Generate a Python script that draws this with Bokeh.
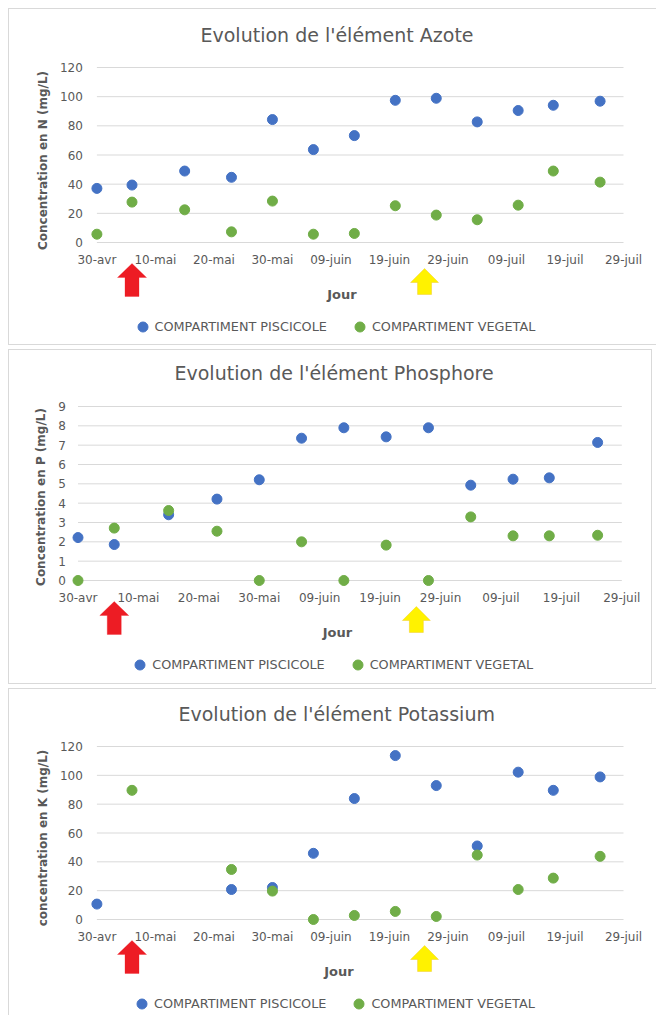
import pandas as pd
from bokeh.plotting import figure
from bokeh.layouts import column
from bokeh.models import FixedTicker, Legend, LegendItem, PolyAnnotation, Range1d
from bokeh.embed import file_html
from bokeh.resources import INLINE

NAN = float("nan")

# ---------------- data ----------------
dates = ["2021-04-30", "2021-05-06", "2021-05-15", "2021-05-23", "2021-05-30",
         "2021-06-06", "2021-06-13", "2021-06-20", "2021-06-27", "2021-07-04",
         "2021-07-11", "2021-07-17", "2021-07-25"]

x_tick_dates = ["2021-04-30", "2021-05-10", "2021-05-20", "2021-05-30", "2021-06-09",
                "2021-06-19", "2021-06-29", "2021-07-09", "2021-07-19", "2021-07-29"]
x_tick_labels = ["30-avr", "10-mai", "20-mai", "30-mai", "09-juin",
                 "19-juin", "29-juin", "09-juil", "19-juil", "29-juil"]

series_names = ["COMPARTIMENT PISCICOLE", "COMPARTIMENT VEGETAL"]

azote_piscicole = [37.1, 39.4, 49.0, 44.7, 84.3, 63.7, 73.3, 97.5, 98.9, 82.7, 90.5, 94.1, 96.9]
azote_vegetal = [5.7, 27.7, 22.4, 7.3, 28.4, 5.7, 6.2, 25.2, 18.8, 15.6, 25.6, 49.0, 41.4]

phosphore_piscicole = [2.22, 1.86, 3.40, 4.21, 5.21, 7.36, 7.90, 7.43, 7.90, 4.93, 5.24, 5.31, 7.14]
phosphore_vegetal = [0.0, 2.71, 3.62, 2.55, 0.0, 2.00, 0.0, 1.83, 0.0, 3.29, 2.31, 2.31, 2.34]

potassium_piscicole = [10.7, NAN, NAN, 20.8, 22.2, 45.9, 83.9, 113.7, 92.9, 51.0, 102.2, 89.6, 98.9]
potassium_vegetal = [NAN, 89.6, NAN, 34.7, 19.7, 0.0, 2.8, 5.6, 2.1, 44.7, 20.8, 28.7, 43.8]

azote_ticks = [0, 20, 40, 60, 80, 100, 120]
phosphore_ticks = [0, 1, 2, 3, 4, 5, 6, 7, 8, 9]
potassium_ticks = [0, 20, 40, 60, 80, 100, 120]

event_dates = ["2021-05-06", "2021-06-25"]

# ---------------- styles ----------------
BLUE = "#4472C4"
GREEN = "#70AD47"
TEXT = "#595959"
GRID = "#D9D9D9"
FONT = "DejaVu Sans"
DAY = 86400000.0
ARROWS = [dict(fill="#ED1C24", line="#ED1C24", tip=21, base=35, bottom=54, head=29, shaft=14),
          dict(fill="#FFF200", line="#E8B400", tip=26, base=40, bottom=52, head=28, shaft=14)]


def ms(d):
    return pd.Timestamp(d).value / 1e6


x_vals = [ms(d) for d in dates]


def make_panel(title, ylabel, yticks, pisc, veg, L, css):
    t0 = ms(x_tick_dates[0])
    t1 = ms(x_tick_dates[-1])
    span = (t1 - t0) / DAY
    day_px = (L["x_last"] - L["x_first"]) / span
    W, H = L["W"], L["H"]

    # the frame covers the whole area under the title; axes are placed inside it
    frame_left = 18
    frame_width = W - frame_left
    x_start = t0 - (L["x_first"] - frame_left) / day_px * DAY
    x_end = x_start + frame_width / day_px * DAY

    def px_to_x(px):
        return x_start + (px - frame_left) / day_px * DAY

    ymax = yticks[-1]
    unit_px = (L["y_zero"] - L["y_top"]) / ymax
    frame_top = int(2 * L["title_cy"] - 4)
    frame_bottom = H
    y_start = -(frame_bottom - L["y_zero"]) / unit_px
    y_end = ymax + (L["y_top"] - frame_top) / unit_px

    p = figure(width=W, height=H, output_backend="svg", toolbar_location=None,
               x_axis_type="datetime",
               x_range=Range1d(x_start, x_end), y_range=Range1d(y_start, y_end),
               min_border_left=frame_left, min_border_right=0,
               min_border_top=frame_top, min_border_bottom=0,
               frame_align=False, styles=css)
    p.outline_line_color = None
    p.background_fill_color = "white"
    p.border_fill_color = "white"

    # title
    p.title.text = title
    p.title.align = "left"
    p.title.offset = L["title_left"] - frame_left
    p.title.text_font = FONT
    p.title.text_font_size = "19px"
    p.title.text_font_style = "normal"
    p.title.text_color = TEXT
    p.title.standoff = max(0, frame_top - 25)

    # horizontal grid lines, from the first to the last date tick
    p.xgrid.visible = False
    p.ygrid.visible = False
    n = len(yticks)
    p.segment(x0=[t0] * n, y0=yticks, x1=[t1] * n, y1=yticks,
              line_color=GRID, line_width=1)

    # axes
    xt = FixedTicker(ticks=[ms(d) for d in x_tick_dates])
    p.xaxis.ticker = xt
    p.xaxis.major_label_overrides = {ms(d): lab for d, lab in zip(x_tick_dates, x_tick_labels)}
    p.yaxis.ticker = FixedTicker(ticks=yticks)

    for ax in (p.xaxis, p.yaxis):
        ax.axis_line_color = None
        ax.major_tick_line_color = None
        ax.minor_tick_line_color = None
        ax.major_tick_out = 0
        ax.major_tick_in = 0
        ax.minor_tick_out = 0
        ax.minor_tick_in = 0
        ax.major_label_text_font = FONT
        ax.major_label_text_font_size = "12px"
        ax.major_label_text_color = TEXT
        ax.axis_label_text_font = FONT
        ax.axis_label_text_font_style = "bold"
        ax.axis_label_text_color = TEXT

    p.xaxis.fixed_location = 0
    p.xaxis.axis_label = "Jour"
    p.xaxis.axis_label_text_font_size = "13px"
    p.xaxis.major_label_standoff = 10
    p.xaxis.axis_label_standoff = 17
    right_px = L["x_last"] + 2
    p.xaxis.bounds = (px_to_x(2 * L["jour_cx"] - right_px), px_to_x(right_px))

    p.yaxis.fixed_location = t0
    p.yaxis.axis_label = ylabel
    p.yaxis.axis_label_text_font_size = "12px"
    p.yaxis.major_label_standoff = int(round(L["x_first"] - L["tick_right"]))
    p.yaxis.axis_label_standoff = L["ylab_standoff"]
    p.yaxis.bounds = (-2 * L["ylab_shift"] / unit_px, ymax)

    r1 = p.scatter(x_vals, pisc, size=10, color=BLUE, line_color=BLUE)
    r2 = p.scatter(x_vals, veg, size=10, color=GREEN, line_color=GREEN)

    legend = Legend(items=[LegendItem(label=series_names[0], renderers=[r1]),
                           LegendItem(label=series_names[1], renderers=[r2])],
                    orientation="horizontal",
                    location=(L["leg_left"] - 10.5 - frame_left,
                              frame_bottom - (L["y_zero"] + 84 + 12.5)),
                    glyph_width=25, glyph_height=25, label_standoff=0, spacing=20,
                    padding=0, margin=0, border_line_color=None,
                    background_fill_alpha=0,
                    label_text_font=FONT, label_text_font_size="12.8px",
                    label_text_color=TEXT)
    p.add_layout(legend, "center")

    # event arrows below the x axis
    for d, a in zip(event_dates, ARROWS):
        xc = ms(d)
        hw = a["head"] / 2 / day_px * DAY
        sw = a["shaft"] / 2 / day_px * DAY
        y_tip = -a["tip"] / unit_px
        y_base = -a["base"] / unit_px
        y_bot = -a["bottom"] / unit_px
        xs = [xc, xc + hw, xc + sw, xc + sw, xc - sw, xc - sw, xc - hw]
        ys = [y_tip, y_base, y_base, y_bot, y_bot, y_base, y_base]
        p.add_layout(PolyAnnotation(xs=xs, ys=ys, xs_units="data", ys_units="data",
                                    fill_color=a["fill"], fill_alpha=1.0,
                                    line_color=a["line"], line_width=1))
    return p


L1 = dict(W=648, H=337, x_first=87.4, x_last=614.0, y_top=58, y_zero=233, tick_right=73.5,
          ylab_standoff=7, ylab_shift=5.5, title_left=191, title_cy=26, leg_left=131,
          jour_cx=332.4)
L2 = dict(W=644, H=335, x_first=68.5, x_last=612.3, y_top=56, y_zero=230, tick_right=56,
          ylab_standoff=8, ylab_shift=3.7, title_left=165, title_cy=23, leg_left=128.8,
          jour_cx=328)
L3 = dict(W=648, H=327, x_first=87.4, x_last=614.0, y_top=57, y_zero=230, tick_right=73.5,
          ylab_standoff=7, ylab_shift=5, title_left=169, title_cy=25, leg_left=130.5,
          jour_cx=329.5)

css1 = {"border-top": "1px solid #D9D9D9", "border-left": "1px solid #D9D9D9",
        "border-bottom": "1px solid #D9D9D9"}
css3 = {"border-top": "1px solid #D9D9D9", "border-left": "1px solid #D9D9D9"}
css2 = {"border": "1px solid #D9D9D9"}

p1 = make_panel("Evolution de l'élément Azote", "Concentration en N (mg/L)", azote_ticks,
                azote_piscicole, azote_vegetal, L1, css1)
p2 = make_panel("Evolution de l'élément Phosphore", "Concentration en P (mg/L)", phosphore_ticks,
                phosphore_piscicole, phosphore_vegetal, L2, css2)
p3 = make_panel("Evolution de l'élément Potassium", "concentration en K (mg/L)", potassium_ticks,
                potassium_piscicole, potassium_vegetal, L3, css3)

layout = column(p1, p2, p3, spacing=4, margin=(8, 0, 0, 8))
open("out.html", "w").write(file_html(layout, INLINE))
